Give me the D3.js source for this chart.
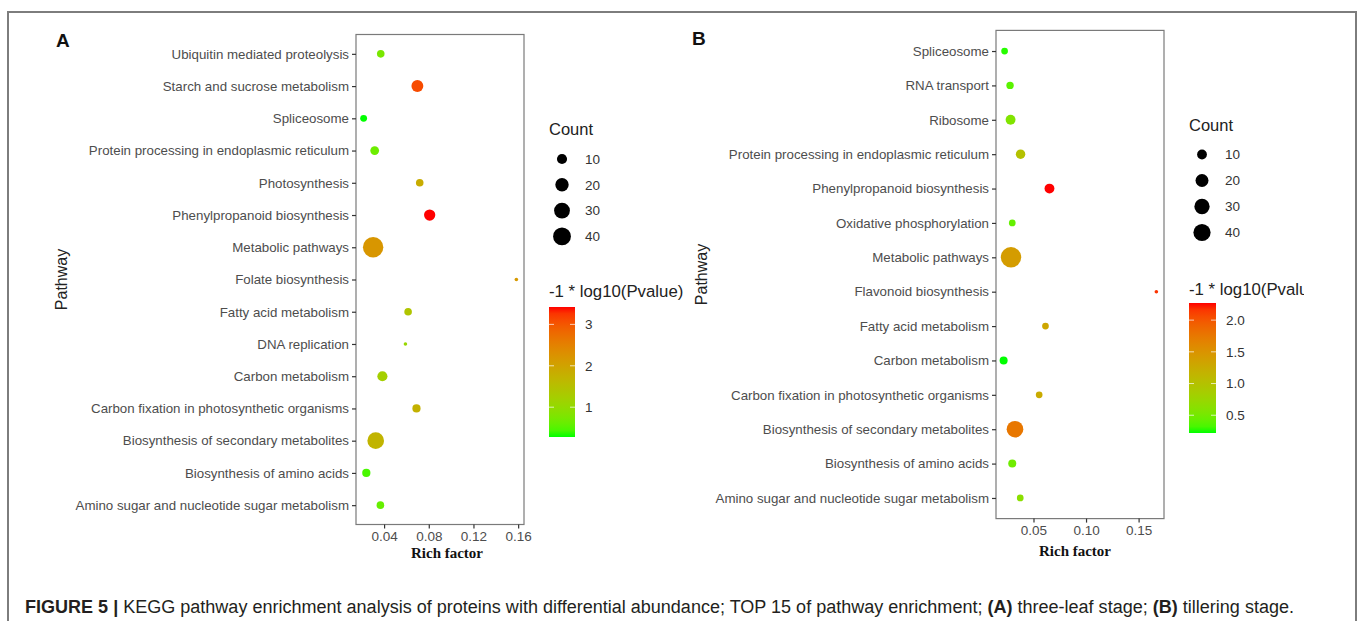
<!DOCTYPE html>
<html>
<head>
<meta charset="utf-8">
<script src="https://cdn.jsdelivr.net/npm/d3@7"></script>
<style>
  html, body { margin: 0; padding: 0; background: #fff; }
  svg { display: block; font-family: "Liberation Sans", Arial, sans-serif; }
</style>
</head>
<body>
<svg id="fig" width="1357" height="621"></svg>
<script>
// ---- Panel A: three-leaf stage ----
const pathwaysA = [
  "Ubiquitin mediated proteolysis",
  "Starch and sucrose metabolism",
  "Spliceosome",
  "Protein processing in endoplasmic reticulum",
  "Photosynthesis",
  "Phenylpropanoid biosynthesis",
  "Metabolic pathways",
  "Folate biosynthesis",
  "Fatty acid metabolism",
  "DNA replication",
  "Carbon metabolism",
  "Carbon fixation in photosynthetic organisms",
  "Biosynthesis of secondary metabolites",
  "Biosynthesis of amino acids",
  "Amino sugar and nucleotide sugar metabolism"
];
const richA  = [0.037, 0.0698, 0.0217, 0.0316, 0.0719, 0.0808, 0.0302, 0.1584, 0.0615, 0.0591, 0.0385, 0.069, 0.0325, 0.0241, 0.0367];
const countA = [5, 15, 4, 7, 5, 13, 55, 2, 5, 2, 10, 6, 34, 6, 5];
const pvalA  = [0.75, 3.1, 0.28, 0.65, 1.85, 3.42, 2.2, 2.15, 1.4, 1.07, 1.22, 1.75, 1.7, 0.44, 0.6];
const xTicksA = [0.04, 0.08, 0.12, 0.16];
const colorTicksA = [1, 2, 3];

// ---- Panel B: tillering stage ----
const pathwaysB = [
  "Spliceosome",
  "RNA transport",
  "Ribosome",
  "Protein processing in endoplasmic reticulum",
  "Phenylpropanoid biosynthesis",
  "Oxidative phosphorylation",
  "Metabolic pathways",
  "Flavonoid biosynthesis",
  "Fatty acid metabolism",
  "Carbon metabolism",
  "Carbon fixation in photosynthetic organisms",
  "Biosynthesis of secondary metabolites",
  "Biosynthesis of amino acids",
  "Amino sugar and nucleotide sugar metabolism"
];
const richB  = [0.0225, 0.0277, 0.0282, 0.0377, 0.0652, 0.0298, 0.0286, 0.1669, 0.0614, 0.0216, 0.0554, 0.0324, 0.0298, 0.0374];
const countB = [4, 5, 10, 9, 10, 4, 60, 2, 4, 6, 4, 37, 6, 4];
const pvalB  = [0.25, 0.38, 0.57, 1.0, 2.27, 0.42, 1.41, 2.17, 1.31, 0.22, 1.25, 1.76, 0.47, 0.63];
const xTicksB = [0.05, 0.10, 0.15];
const colorTicksB = [0.5, 1.0, 1.5, 2.0];

const countLegendTicks = [10, 20, 30, 40];

const svg = d3.select("#fig");
const defs = svg.append("defs");

// outer frame of the figure
svg.append("rect")
  .attr("x", 8).attr("y", 12).attr("width", 1348).attr("height", 640)
  .attr("fill", "none").attr("stroke", "#7d7d7d").attr("stroke-width", 2);

function drawPanel(cfg) {
  const { id, letter, letterPos, pathways, rich, count, pval, xTicks, colorTicks, plot, legend } = cfg;
  const rows = pathways.map((p, i) => ({ pathway: p, rich: rich[i], count: count[i], pval: pval[i] }));

  // x: 5% expansion around the data range
  const [rmin, rmax] = d3.extent(rich);
  const pad = (rmax - rmin) * 0.05;
  const x = d3.scaleLinear().domain([rmin - pad, rmax + pad]).range([plot.left, plot.right]);
  const y = d3.scalePoint().domain(pathways).range([plot.top, plot.bottom]).padding(0.6);

  // point area proportional to the rescaled count
  const countNorm = d3.scaleLinear().domain(d3.extent(count)).range([0, 1]);
  const rScale = d3.scaleSqrt().domain([0, 1]).range([1.8, 10.2]);
  const radius = c => rScale(Math.max(0, countNorm(c)));

  const pExt = d3.extent(pval);
  const color = d3.scaleLinear().domain(pExt).range(["#00ff00", "#ff0000"]).interpolate(d3.interpolateLab);

  const g = svg.append("g").attr("id", id);

  // panel letter
  g.append("text").attr("x", letterPos[0]).attr("y", letterPos[1])
    .attr("font-size", 19).attr("font-weight", "bold").attr("fill", "#111").text(letter);

  // panel border
  g.append("rect")
    .attr("x", plot.left).attr("y", plot.top)
    .attr("width", plot.right - plot.left).attr("height", plot.bottom - plot.top)
    .attr("fill", "#fff").attr("stroke", "#7a7a7a").attr("stroke-width", 1.2);

  // y axis
  const yAxis = g.append("g").attr("transform", `translate(${plot.left},0)`)
    .call(d3.axisLeft(y).tickSize(4).tickPadding(3));
  yAxis.select(".domain").remove();
  yAxis.selectAll(".tick line").attr("stroke", "#333").attr("stroke-width", 1.2);
  yAxis.selectAll(".tick text").attr("fill", "#4d4d4d").attr("font-size", 13.3)
    .attr("font-family", "Liberation Sans, Arial, sans-serif");

  // x axis
  const xAxis = g.append("g").attr("transform", `translate(0,${plot.bottom})`)
    .call(d3.axisBottom(x).tickValues(xTicks).tickFormat(d3.format(".2f")).tickSize(4).tickPadding(3));
  xAxis.select(".domain").remove();
  xAxis.selectAll(".tick line").attr("stroke", "#333").attr("stroke-width", 1.2);
  xAxis.selectAll(".tick text").attr("fill", "#4d4d4d").attr("font-size", 13.5)
    .attr("font-family", "Liberation Sans, Arial, sans-serif");

  // axis titles
  g.append("text")
    .attr("x", (plot.left + plot.right) / 2 + cfg.xTitleShift).attr("y", plot.bottom + cfg.xTitleDy)
    .attr("text-anchor", "middle").attr("font-family", "Liberation Serif, Times New Roman, serif")
    .attr("font-weight", "bold").attr("font-size", 15).attr("fill", "#111").text("Rich factor");
  g.append("text")
    .attr("transform", `translate(${cfg.yTitleX},${(plot.top + plot.bottom) / 2}) rotate(-90)`)
    .attr("text-anchor", "middle").attr("font-size", 16).attr("fill", "#222").text("Pathway");

  // points
  g.append("g").selectAll("circle").data(rows).join("circle")
    .attr("cx", d => x(d.rich)).attr("cy", d => y(d.pathway))
    .attr("r", d => radius(d.count))
    .attr("fill", d => color(d.pval));

  // ---- legends ----
  const L = g.append("g");
  L.append("text").attr("x", legend.x).attr("y", legend.countTitleY)
    .attr("font-size", 16.5).attr("fill", "#222").text("Count");
  countLegendTicks.forEach((c, i) => {
    const cy = legend.countY0 + i * legend.countStep;
    L.append("circle").attr("cx", legend.x + 13).attr("cy", cy).attr("r", radius(c)).attr("fill", "#000");
    L.append("text").attr("x", legend.x + 36).attr("y", cy).attr("dy", "0.35em")
      .attr("font-size", 13.5).attr("fill", "#333").text(c);
  });

  // color bar title (clipped to the figure area when it overflows)
  const clipId = id + "-clip";
  defs.append("clipPath").attr("id", clipId).append("rect")
    .attr("x", legend.x - 5).attr("y", 0).attr("width", legend.clipW).attr("height", 621);
  L.append("text").attr("x", legend.x).attr("y", legend.barTitleY)
    .attr("clip-path", `url(#${clipId})`)
    .attr("font-size", 16.8).attr("fill", "#222").text("-1 * log10(Pvalue)");

  // color bar
  const gradId = id + "-grad";
  const grad = defs.append("linearGradient").attr("id", gradId)
    .attr("x1", 0).attr("y1", 1).attr("x2", 0).attr("y2", 0);
  d3.range(0, 1.0001, 0.05).forEach(t => {
    grad.append("stop").attr("offset", t).attr("stop-color", color(pExt[0] + t * (pExt[1] - pExt[0])));
  });
  const barScale = d3.scaleLinear().domain(pExt).range([legend.barBottom, legend.barTop]);
  L.append("rect").attr("x", legend.x).attr("y", legend.barTop)
    .attr("width", legend.barW).attr("height", legend.barBottom - legend.barTop)
    .attr("fill", `url(#${gradId})`);
  const fmt = cfg.colorFormat;
  colorTicks.forEach(v => {
    const yy = barScale(v);
    L.append("line").attr("x1", legend.x).attr("x2", legend.x + 5).attr("y1", yy).attr("y2", yy)
      .attr("stroke", "#fff").attr("stroke-opacity", 0.7);
    L.append("line").attr("x1", legend.x + legend.barW - 5).attr("x2", legend.x + legend.barW).attr("y1", yy).attr("y2", yy)
      .attr("stroke", "#fff").attr("stroke-opacity", 0.7);
    L.append("text").attr("x", legend.x + legend.barW + 10).attr("y", yy).attr("dy", "0.35em")
      .attr("font-size", 13.5).attr("fill", "#333").text(fmt(v));
  });
}

drawPanel({
  id: "panelA", letter: "A", letterPos: [56, 47],
  pathways: pathwaysA, rich: richA, count: countA, pval: pvalA,
  xTicks: xTicksA, colorTicks: colorTicksA, colorFormat: d3.format("d"),
  plot: { left: 356, right: 524, top: 34.5, bottom: 524.5 },
  yTitleX: 67, xTitleShift: 7, xTitleDy: 33,
  legend: { x: 549, countTitleY: 135, countY0: 159, countStep: 25.8, barTitleY: 297,
            barTop: 307, barBottom: 437, barW: 26, clipW: 200 }
});

drawPanel({
  id: "panelB", letter: "B", letterPos: [692, 45],
  pathways: pathwaysB, rich: richB, count: countB, pval: pvalB,
  xTicks: xTicksB, colorTicks: colorTicksB, colorFormat: d3.format(".1f"),
  plot: { left: 996, right: 1164, top: 30.4, bottom: 518.6 },
  yTitleX: 707, xTitleShift: -5, xTitleDy: 37,
  legend: { x: 1189, countTitleY: 131, countY0: 154.5, countStep: 26, barTitleY: 295,
            barTop: 303, barBottom: 433, barW: 27, clipW: 120 }
});

// caption, fitted to the figure width
const cap = svg.append("text").attr("x", 25).attr("y", 613)
  .attr("font-size", 18).attr("fill", "#231f20")
  .attr("font-family", "Liberation Sans, Arial, sans-serif");
cap.append("tspan").attr("font-weight", "bold").text("FIGURE 5 | ");
cap.append("tspan").text("KEGG pathway enrichment analysis of proteins with differential abundance; TOP 15 of pathway enrichment; ");
cap.append("tspan").attr("font-weight", "bold").text("(A)");
cap.append("tspan").text(" three-leaf stage; ");
cap.append("tspan").attr("font-weight", "bold").text("(B)");
cap.append("tspan").text(" tillering stage.");
const capW = cap.node().getComputedTextLength();
cap.attr("textLength", 1269).attr("lengthAdjust", "spacingAndGlyphs");
if (Math.abs(capW - 1269) < 1) cap.attr("textLength", null);
</script>
</body>
</html>
